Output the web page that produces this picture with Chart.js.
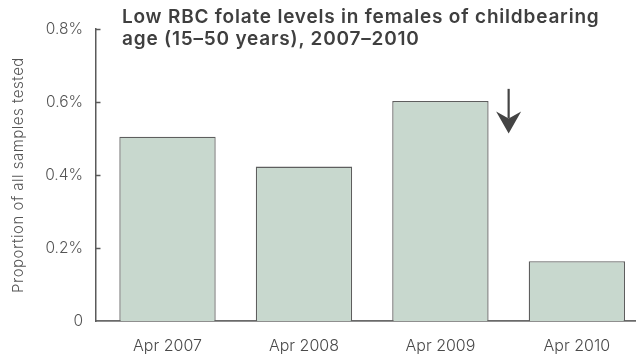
<!DOCTYPE html>
<html>
<head>
<meta charset="utf-8">
<script src="https://cdn.jsdelivr.net/npm/chart.js@4/dist/chart.umd.min.js"></script>
<style>
  html, body { margin: 0; padding: 0; background: #fff; }
  #wrap { position: relative; width: 641px; height: 359px; }
  #title {
    position: absolute; left: 122px; top: 6px;
    font-family: Inter, Lato, sans-serif; font-weight: 600;
    font-size: 19px; line-height: 22px; letter-spacing: 0.8px; color: #3f3f3f;
    white-space: nowrap; pointer-events: none;
  }
</style>
</head>
<body>
<div id="wrap">
  <canvas id="c" width="641" height="359"></canvas>
  <div id="title">Low RBC folate levels in females of childbearing<br>age (15–50 years), 2007–2010</div>
</div>
<script>
// Survey periods and the share of tested samples with low RBC folate (%)
const categories = ['Apr 2007', 'Apr 2008', 'Apr 2009', 'Apr 2010'];
const lowFolatePct = [0.505, 0.423, 0.603, 0.164];
const yTicks = [0, 0.2, 0.4, 0.6, 0.8];
const yAxisTitle = 'Proportion of all samples tested';

const axisColor = '#5a5a5a';
const textColor = '#555555';
const fontFamily = 'Inter, Lato, sans-serif';

// Small inward tick marks on the value axis, the y-axis title and the downward arrow
const decorations = {
  id: 'decorations',
  afterDraw(chart) {
    const { ctx, scales } = chart;
    const y = scales.y, x = scales.x;
    ctx.save();
    ctx.strokeStyle = axisColor;
    ctx.lineWidth = 1.5;
    yTicks.forEach(v => {
      if (v === 0) return;
      const py = Math.round(y.getPixelForValue(v)) + 0.5;
      ctx.beginPath();
      ctx.moveTo(x.left, py);
      ctx.lineTo(x.left + 4.5, py);
      ctx.stroke();
    });

    // rotated axis title
    ctx.fillStyle = textColor;
    ctx.font = '300 15px ' + fontFamily;
    if ('letterSpacing' in ctx) ctx.letterSpacing = '0.5px';
    ctx.textAlign = 'center';
    ctx.textBaseline = 'middle';
    ctx.translate(18, 175);
    ctx.rotate(-Math.PI / 2);
    ctx.fillText(yAxisTitle, 0, 0);
    ctx.setTransform(1, 0, 0, 1, 0, 0);
    if ('letterSpacing' in ctx) ctx.letterSpacing = '0px';

    // arrow between the 2009 and 2010 bars
    const ax = x.getPixelForValue(2.5);
    const top = y.getPixelForValue(0.636);
    const tip = y.getPixelForValue(0.514);
    const headBase = y.getPixelForValue(0.574);
    const notch = y.getPixelForValue(0.555);
    ctx.strokeStyle = '#444';
    ctx.fillStyle = '#444';
    ctx.lineWidth = 2.2;
    ctx.beginPath();
    ctx.moveTo(ax, top);
    ctx.lineTo(ax, notch);
    ctx.stroke();
    ctx.beginPath();
    ctx.moveTo(ax - 12.5, headBase);
    ctx.lineTo(ax, notch);
    ctx.lineTo(ax + 12.5, headBase);
    ctx.lineTo(ax, tip);
    ctx.closePath();
    ctx.fill();
    ctx.restore();
  }
};

new Chart(document.getElementById('c'), {
  type: 'bar',
  data: {
    datasets: [{
      data: lowFolatePct.map((v, i) => ({ x: i, y: v })),
      backgroundColor: '#c8d8ce',
      borderColor: '#5e5e5e',
      borderWidth: 1.3,
      borderSkipped: 'bottom',
      categoryPercentage: 1,
      barPercentage: 0.706
    }]
  },
  options: {
    responsive: false,
    animation: false,
    layout: { padding: { top: 29, right: 6, left: 0, bottom: 0 } },
    plugins: { legend: { display: false }, tooltip: { enabled: false }, title: { display: false } },
    scales: {
      x: {
        type: 'linear',
        offset: false,
        min: -0.524,
        max: 3.426,
        afterBuildTicks: s => { s.ticks = categories.map((c, i) => ({ value: i })); },
        afterFit: s => { s.height = 38; },
        grid: { display: false, drawTicks: false },
        border: { display: true, color: '#6a6a6a', width: 1.8 },
        ticks: {
          padding: 16,
          maxRotation: 0,
          color: '#4a4a4a',
          font: { family: fontFamily, size: 16, weight: '300' },
          callback: v => categories[v]
        }
      },
      y: {
        min: 0,
        max: 0.8,
        afterBuildTicks: s => { s.ticks = yTicks.map(v => ({ value: v })); },
        afterFit: s => { s.width = 96; },
        grid: { display: false, drawTicks: false },
        border: { display: true, color: axisColor, width: 1.5 },
        ticks: {
          padding: 13,
          color: textColor,
          font: { family: fontFamily, size: 15.5, weight: '300' },
          callback: v => v === 0 ? '0' : v.toFixed(1) + '%'
        }
      }
    }
  },
  plugins: [decorations]
});
</script>
</body>
</html>
